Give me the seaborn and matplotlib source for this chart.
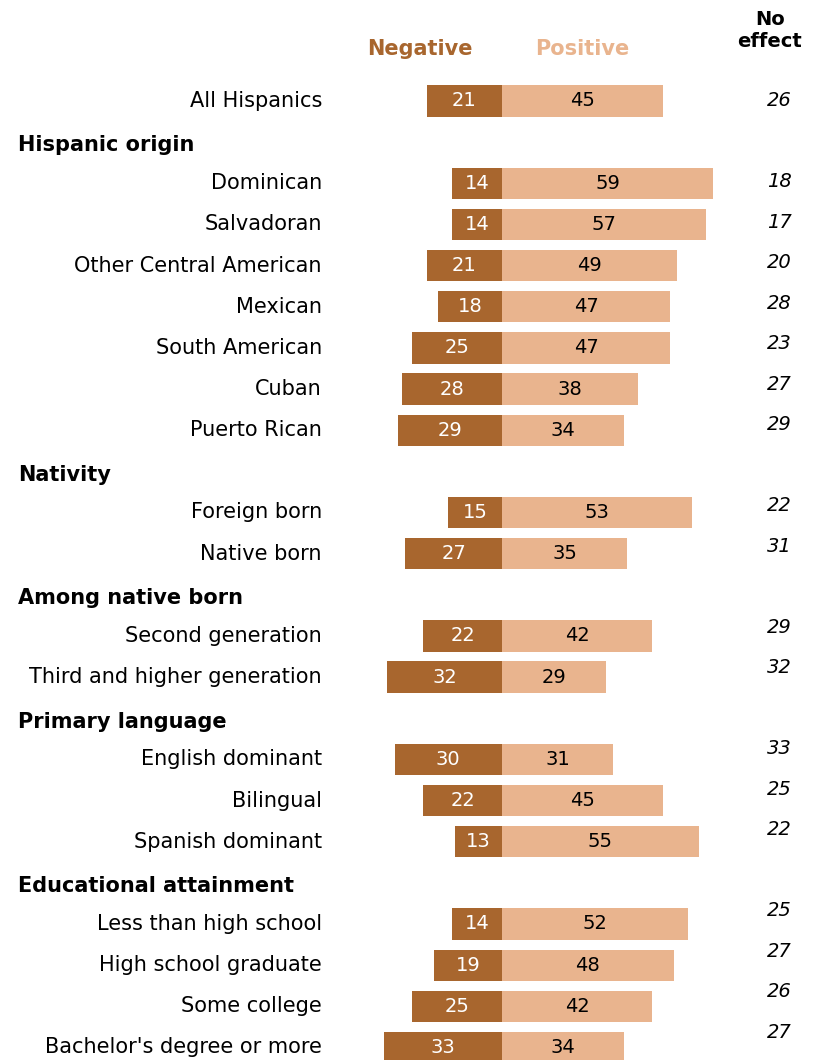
import pandas as pd
import matplotlib.pyplot as plt
import seaborn as sns

# Values
groups = ["", "Hispanic origin", "Nativity", "Among native born",
          "Primary language", "Educational attainment"]
members = [
    ["All Hispanics"],
    ["Dominican", "Salvadoran", "Other Central American", "Mexican",
     "South American", "Cuban", "Puerto Rican"],
    ["Foreign born", "Native born"],
    ["Second generation", "Third and higher generation"],
    ["English dominant", "Bilingual", "Spanish dominant"],
    ["Less than high school", "High school graduate", "Some college",
     "Bachelor's degree or more"],
]
negative = [21, 14, 14, 21, 18, 25, 28, 29, 15, 27, 22, 32, 30, 22, 13, 14, 19, 25, 33]
positive = [45, 59, 57, 49, 47, 47, 38, 34, 53, 35, 42, 29, 31, 45, 55, 52, 48, 42, 34]
no_effect = [26, 18, 17, 20, 28, 23, 27, 29, 22, 31, 29, 32, 33, 25, 22, 25, 27, 26, 27]

NEG_COLOR = "#a8662e"
POS_COLOR = "#e9b48e"

# build row order: header rows become empty slots
order = []
headers = []
for g, m in zip(groups, members):
    if g:
        order.append(g)
        headers.append(g)
    order.extend(m)
labels = [x for m in members for x in m]

df = pd.DataFrame({"label": labels, "neg": [-v for v in negative],
                   "pos": positive, "none": no_effect})

sns.set_style("white")
plt.rcParams["font.family"] = ["DejaVu Sans"]
plt.rcParams["text.color"] = "black"

fig = plt.figure(figsize=(8.14, 10.60), dpi=100)
ax = fig.add_axes([0, 0, 1, 1])

sns.barplot(data=df, x="neg", y="label", order=order, orient="h",
            color=NEG_COLOR, width=0.76, saturation=1, linewidth=0, ax=ax)
sns.barplot(data=df, x="pos", y="label", order=order, orient="h",
            color=POS_COLOR, width=0.76, saturation=1, linewidth=0, ax=ax)

# map data units to the picture: center at px 502, ~3.58 px per point
px = 3.58
ax.set_xlim(-502 / px, (814 - 502) / px)
ax.set_ylim((1060 - 101) / 41.15, -101 / 41.15)
ax.axis("off")

for i, row in df.iterrows():
    y = order.index(row["label"])
    ax.text(-50.3, y, row["label"], ha="right", va="center", fontsize=15)
    ax.text(row["neg"] / 2, y, str(-row["neg"]), ha="center", va="center",
            fontsize=14, color="white")
    ax.text(row["pos"] / 2, y, str(row["pos"]), ha="center", va="center",
            fontsize=14, color="black")
    ax.text(77.4, y * 0.984, str(row["none"]), ha="center", va="center",
            fontsize=14, style="italic")

for h in headers:
    y = order.index(h)
    ax.text(-135.2, y + 0.08, h, ha="left", va="center", fontsize=15,
            fontweight="bold")

# column headers
ax.text((420 - 502) / px, -1.27, "Negative", ha="center", va="center",
        fontsize=15, fontweight="bold", color=NEG_COLOR)
ax.text((582 - 502) / px, -1.27, "Positive", ha="center", va="center",
        fontsize=15, fontweight="bold", color=POS_COLOR)
ax.text((770 - 502) / px, -1.72, "No\neffect", ha="center", va="center",
        fontsize=14, fontweight="bold", linespacing=1.2)

plt.savefig("out.png", dpi=100)
